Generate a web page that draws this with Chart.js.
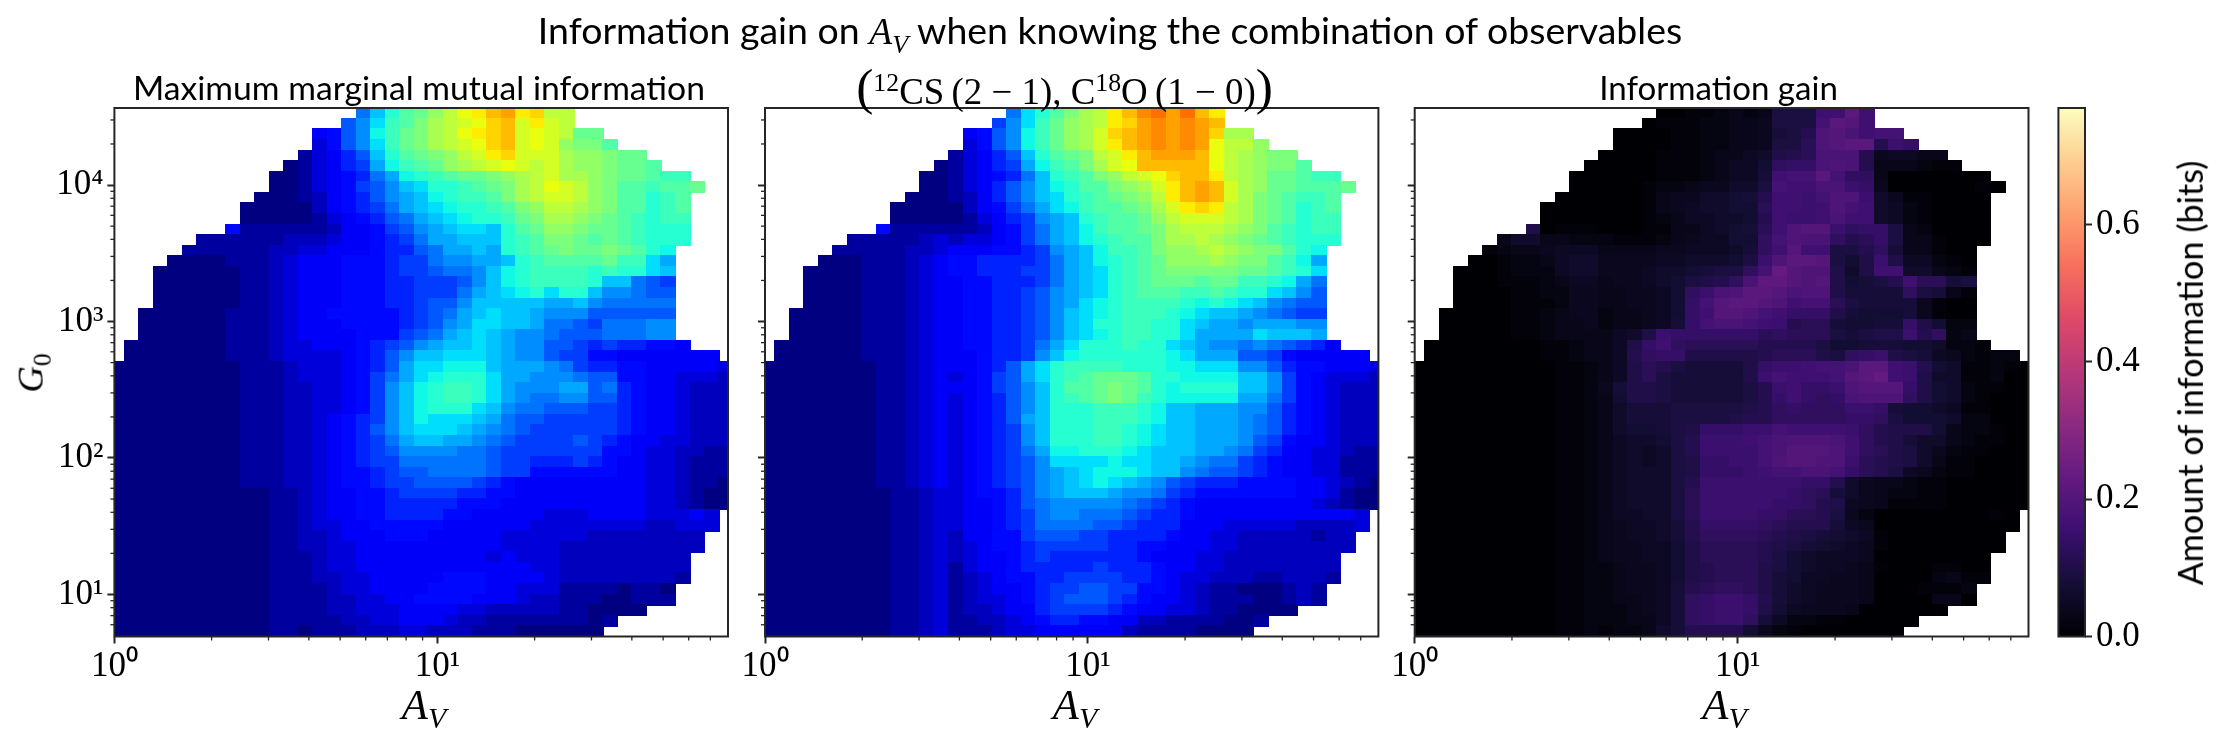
<!DOCTYPE html>
<html><head><meta charset="utf-8">
<script src="https://cdn.jsdelivr.net/npm/chart.js@4"></script>
<style>
html,body{margin:0;padding:0;background:#fff;width:2224px;height:737px;overflow:hidden}
canvas{position:absolute;top:0}
.t{position:absolute;white-space:nowrap;color:#000;font-family:Lato,sans-serif;transform:translate(-50%,-50%);line-height:1;font-size:32px}
.m{font-family:"Liberation Serif",serif}
.m i{font-style:italic}
sub,sup{font-size:70%;line-height:0}
.p{font-size:1.4em;font-weight:100}
</style></head><body>
<canvas id="c1" width="760" height="737" style="left:0"></canvas>
<canvas id="c2" width="720" height="737" style="left:680px"></canvas>
<canvas id="c3" width="720" height="737" style="left:1330px"></canvas>
<canvas id="c4" width="184" height="737" style="left:2040px"></canvas>
<div class="t" data-w="1145" style="left:1110px;top:31px">Information gain on <span class="m"><i>A<sub>V</sub></i></span> when knowing the combination of observables</div>
<div class="t" data-w="572" style="left:419px;top:88px">Maximum marginal mutual information</div>
<div class="t m" data-w="417" style="left:1064.5px;top:87px"><span class="p">(</span><sup>12</sup>CS&#8201;(2 − 1), C<sup>18</sup>O&#8201;(1 − 0)<span class="p">)</span></div>
<div class="t" data-w="239" style="left:1718.6px;top:88px">Information gain</div>
<div class="t m" data-w="44" style="left:424px;top:705px"><i>A<sub>V</sub></i></div>
<div class="t m" data-w="44" style="left:1075px;top:705px"><i>A<sub>V</sub></i></div>
<div class="t m" data-w="44" style="left:1724.5px;top:705px"><i>A<sub>V</sub></i></div>
<div class="t m" data-w="39" style="left:31px;top:373px;transform:translate(-50%,-50%) rotate(-90deg)"><i>G</i><sub>0</sub></div>
<div class="t" data-w="425" style="left:2190px;top:373px;transform:translate(-50%,-50%) rotate(-90deg)">Amount of information (bits)</div>
<script>
// first occupied column of each grid row (row 0 is the top row)
const rowStart=[17,16,14,14,13,12,11,11,10,9,9,8,6,5,4,3,3,3,3,2,2,2,1,1,0,0,0,0,0,0,0,0,0,0,0,0,0,0,0,0,0,0,0,0,0,0,0,0,0,0];
// cell levels: base-36 digits, one string per row (spaces are ignored)
const marginalLevels=[
"9cfhikmoprspqmm","8adghjlmnoqrnpnm","458aegijlmopqrnonmii","358adgijlmnoqrnonkjjh",
"13468cfhijkmnpqnnnlkkjii","013467beghiklmnonmnlkkjiih","00134569befghiijklmnllkjiihgg","00134578acdffghijlmonmkjhhghhi",
"000124568abcefgghjlmnnmkjhhfgh","00000245679bcdeffghjkmmlkjhhfgh","00000 1345689bcdeffgijllkjihgfgg","511111 1244578abcddcfhikkjiihgfff",
"1111112 2 23445679bbcccfghjjihihgfff","11111122 3 344456689bbcbfghijiijihfe","000011123 4 445556779aabbcfghhhhiggdb",
"0000001123 4 4455567789 9acefggggf gffdc","0000001123 4 4455566777 8acefggggf cc987","0000001123 4 4455566777 9bcdefdffc aa988","0000001123 4 4455566788 acccccbbca 99999",
"00000011123 4 4555556789 bcdccbaaa8 88888","00000011123 4 445555678a bddccb9987 999aa","00000011123 4 444555789b cdcbaa9888 999aa",
"000000011123 3 4445678abc cdcbaa8876 766554","000000011123 3 334568accd ddcbaa8775 54444444",
"0000000001112 3 334568bdde eecbbba976 655444443","0000000001112 3 334579bdef ffdbbaaa98 855443332",
"0000000001112 2 33457acefg gfdbaaabb8 965443222","0000000001112 2 33457acefg gfdba99aa8 865443222","0000000001112 2 33457aceff fdca998887 765443222",
"0000000001112 2 34567acedd dcb9887777 765443222","0000000001112 2 34568acddd cba9877777 765443222","0000000001112 2 345679bccb ba98777787 654433222",
"0000000001112 2 345678aaaa 9987777777 554332211","0000000001112 2 3456779999 9987766676 544332111","0000000001112 2 3455678899 9987755555 544332111",
"0000000001112 2 3455677888 8765444444 444332110",
"0000000000011 2 3445567777 6655444444 444332100","0000000000011 2 3445566666 5554444444 444332100","0000000000011 2 3445566665 5444443334 44433343",
"0000000000011 2 3344555554 4444433333 33322333","0000000000011 2 2344455544 4443333332 2222222","0000000000011 2 2334444444 4443333222 2222222",
"0000000000011 1 2334444444 4434333222 222222","0000000000011 1 2334444444 4444433222 222222","0000000000011 1 2233444445 5544443222 222221",
"0000000000011 1 1233444455 5544333111 10110","0000000000011 1 1223344555 5444322111 00111","0000000000011 1 1223334444 3322222110 000",
"0000000000011 1 1122334443 2211111110 1","0000000000011 0 1112223322 2111000000"
];
const jointLevels=[
"9dfhjlm prtusurp","7adgiklm pqststsr","458aegikln qrststsqll","358aegikln prststsomm k",
"13468cfhij mnprsssrom lkjj","013467begh jlnorrrrro mlkjjh","00134569cf ghjkmnoqrr pmlkiihgg","0013468ace fhhjklnprs rnlkiihhhi",
"00012468ac dfghijkmpr srnljihggh","00000 24579 bdegh hijln pqpml jihfgh","00000 13467 abcfg hhikm nnnml jihfgg","511111 12457 9bceg hhijl mmmlk jhgfgg",
"1111123 2 33457 9bcef ghhjl lmlkj ihgfff","11111223 4 44556 7abce gghjk klmlk jjhfe","000111234 5 56666 79bce fghik kklkj jhgeb",
"0000111234 5 56667 79bcd fghij jjjji ihgfd","0000111234 4 55666 79bcd fghii ihiig gfeb9","0000111234 4 55667 8abcd fghhh gghgf fdca8","0000111234 4 55667 8abde fgggg fefed ca988",
"00000111234 4 55667 8acde fgggf edccb a9877","00000111234 4 55667 8acdf fggff dcbba bbbaa","00000111234 4 55667 8acde fggff dbbbb dcccb",
"000000111234 4 55667 9bdff fgffd cbaa9 a9876 4","000000111234 4 45667 aceff ffffe dbbb8 87544 444",
"0000000011234 4 4568b dfggg gfffe eddda a8655 4443","0000000011234 3 4578b dfghi iihff eeeec ca754 3332",
"0000000011234 4 4578a cfhhi jihfe ffffc ca754 3222","0000000011234 3 4568a cfghi jigfe eeeeb b9754 3222","0000000011234 3 4568a cfffg ggfec cbbba a8654 3222",
"0000000011234 3 4568b cfffg ggfec cbbba 98654 3222","0000000011234 3 4567a cfffg gfedc cbbba 98654 3222","0000000011234 3 4567a cfffg gfedc cbbba 87544 3222",
"0000000011234 3 45679 beeff fedcc cbba9 76443 3211","0000000011234 3 45678 adddd eddcc ba997 65443 3111","0000000011234 3 45678 abcde eedcc a9887 65443 3111",
"0000000011234 3 45678 abcde dcba8 76665 55544 3210",
"0000000001123 3 45568 abccc baa97 65555 55544 3100","0000000001123 3 44568 9aaaa a9876 54444 44443 2100","0000000001123 3 44567 9aa99 98766 54444 44444 443",
"0000000001123 3 44567 99998 87666 44433 33322 223","0000000001123 2 44557 88877 66665 44332 22221 22","0000000001123 2 34556 77777 66554 44332 22222 22",
"0000000001123 2 34456 76666 66544 43322 22222 2","0000000001123 1 34456 66667 66654 43322 22222 2","0000000001123 1 23455 66777 76654 33222 11222 1",
"0000000001123 1 23445 67788 77554 32110 00121","0000000001123 1 23345 67888 76544 32111 00121","0000000001123 1 22344 67777 65443 32110 000",
"0000000001123 1 12234 56655 44221 11100 1","0000000001123 1 11233 44444 42111 10000"
];
const gainLevels=[
"00112323 999 gg l g","0 1112233 4 999 h l k g","00 00112233 4 89b jkighh","0000112233 4 99c jkll bfe",
"0000 111 23356 abc iii b 45533","00000 1112 3557 dee iji b 33 3211","00000 0111 23558 ghh lhdd 3 0000000","00000 12234 4669 hggiife 4 00000010",
"000000 13446 678b ggfhjjf 641100 00","0000000 13456 677c ggfgjhg 652100 00","0000000 12355 667b gffgigg 652100 00","a0111000 11335 678c gjkkfde e93200 00",
"3663322211 12345 577d hjiidbc e93310 00","12334555 33334 45556 8dgkgg99bd8 33100","001223566 44445 56667 9 fjllk 97afa 55210",
"0001222566 44456 67899 dhnkjj a6agg 66321","0001112355 34456 79abd immkjk a789b gcc89","0000112244 33445 7dfij llkijj a8888 d9831","0000111244 33445 7ehkl lkjghh c9888 84100",
"00000112344 23345 7egkk jhgeee a8777 84100","00000112334 23345 8ehii hgfbcc 87788 ea722","00000112333 356af eeeee ecdccc 989aa fbd23",
"000000001123 35aeg dcccc cbbbb9 77888 77622 1","000000001123 35bde eaaaa abccca 9defa 98542 122",
"0000000000112 35acb 98888 aeffgh hillg fb761 1210","0000000000112 35ac9 88888 afhggg hklng fa661 1200",
"0000000000112 48aa9 88888 9bfgee fjkkk ea762 1100","0000000000112 37aa9 88888 9beged eijjj da762 1000","0000000000112 36888 99999 abdedd dffe8 77651 1000",
"0000000000112 36888 9999a bbdddd deed9 77762 2000","0000000000112 36778 9aeee ffhggg gfdba aa732 2100","0000000000112 35667 9bfff ghijjj igdba 86632 1100",
"0000000000112 35656 9bfff fhikkk jgdca 96421 1000","0000000000112 35656 9aeef fhjkkj jfcba 96311 0000","0000000000112 35666 9aeee fghhii hecb9 54211 0000",
"0000000000112 35666 9bfff ffffee b6433 21100 0000",
"0000000000112 35666 9cfff fffedc 86432 21100 0000","0000000000112 35666 9cfff ffeedb a5431 11100 0000","0000000000112 35566 9cfff feeccb 94200 00000 010",
"0000000000112 34556 8beee edcbbb 85400 00000 000","0000000000112 34556 8bddd dcba98 76510 00000 00","0000000000112 34455 7accc cba987 65410 00000 00",
"0000000000112 34455 7accc cb9765 55400 00000 0","0000000000112 23445 7abcc ca9765 54310 00110 0","0000000000112 23445 7abcc ca8755 44300 00231 1",
"0000000000112 23445 8bcdd ca8654 44300 01112","0000000000112 23345 8deff eb8654 44300 00330","0000000000112 22345 8deff ea7544 43000 000",
"0000000000112 22335 8deff d85221 10000 0","0000000000112 12236 8bbbb 742100 00000"
];
const xMajorTicks=[1,10];
const xMinorTicks=[2,3,4,5,6,7,8,9,20,30,40,50,60,70];
const yMajorTicks=[10,100,1000,10000];
const yMinorTicks=[6,7,8,9,20,30,40,50,60,70,80,90,200,300,400,500,600,700,800,900,2000,3000,4000,5000,6000,7000,8000,9000,20000,30000];
const xTickText={1:'10\u2070',10:'10\u00B9'};
const yTickText={10:'10\u00B9',100:'10\u00B2',1000:'10\u00B3',10000:'10\u2074'};
const colorbarTicks=[0,0.2,0.4,0.6];

const xLimits=[1,79.4], yLimits=[4.92,36700];
const xFirst=-0.0134, xStep=0.0449, yFirst=0.692, yStep=0.07745;
const bitsMax=0.77, jetBitsPerLevel=0.0203, magmaBitsPerLevel=0.0101;
const INK='#262626';
const tickFont={family:'"Liberation Serif",serif',size:35};

document.querySelectorAll('[data-w]').forEach(el=>{
 const w=el.offsetWidth;el.style.fontSize=(32*(+el.dataset.w)/w)+'px';
});

const magmaStops=[[0,0,4],[20,14,54],[59,15,112],[100,26,128],[140,41,129],[183,55,121],[222,73,104],[247,111,92],[254,159,109],[254,206,145],[252,253,191]];
function magma(n){n=Math.min(1,Math.max(0,n))*10;const i=Math.min(9,Math.floor(n)),f=n-i,a=magmaStops[i],b=magmaStops[i+1];
 return `rgb(${a.map((v,k)=>Math.round(v+(b[k]-v)*f)).join(',')})`;}
function pw(n,pts){for(let i=1;i<pts.length;i++){if(n<=pts[i][0]){const a=pts[i-1],b=pts[i];return a[1]+(b[1]-a[1])*(n-a[0])/(b[0]-a[0]);}}return pts[pts.length-1][1];}
function jet(n){n=Math.min(1,Math.max(0,n));
 const r=pw(n,[[0,0],[.35,0],[.66,1],[.89,1],[1,.5]]),g=pw(n,[[0,0],[.125,0],[.375,1],[.64,1],[.91,0],[1,0]]),b=pw(n,[[0,.5],[.11,1],[.34,1],[.65,0],[1,0]]);
 return `rgb(${Math.round(r*255)},${Math.round(g*255)},${Math.round(b*255)})`;}

function cellsFrom(rows,bitsPerLevel){
 const out=[];
 rows.forEach((raw,r)=>{const s=raw.replace(/ /g,'');for(let c=0;c<s.length;c++){
  const col=rowStart[r]+c;
  out.push({x:Math.pow(10,xFirst+(col+.5)*xStep),y:Math.pow(10,yFirst+(49-r+.5)*yStep),v:parseInt(s[c],36)*bitsPerLevel});
 }});
 return out;
}
const spriteCache={};
function cellSprite(ctx,cmap){
 if(!ctx.raw)return 'rect';
 const sx=ctx.chart.scales.x,sy=ctx.chart.scales.y,p=ctx.raw;
 const w=Math.max(1,Math.ceil(Math.abs(sx.getPixelForValue(p.x*Math.pow(10,xStep/2))-sx.getPixelForValue(p.x/Math.pow(10,xStep/2))))+1);
 const h=Math.max(1,Math.ceil(Math.abs(sy.getPixelForValue(p.y*Math.pow(10,yStep/2))-sy.getPixelForValue(p.y/Math.pow(10,yStep/2))))+1);
 const col=cmap(p.v/bitsMax),key=col+w+'x'+h;
 if(!spriteCache[key]){const cv=document.createElement('canvas');cv.width=w;cv.height=h;const g=cv.getContext('2d');g.fillStyle=col;g.fillRect(0,0,w,h);spriteCache[key]=cv;}
 return spriteCache[key];
}
const framePlugin={id:'frame',
 beforeDatasetsDraw(ch){ch.ctx.save();ch.ctx.imageSmoothingEnabled=false;},
 afterDatasetsDraw(ch){
  ch.ctx.restore();
  const a=ch.chartArea,g=ch.ctx;
  g.save();g.strokeStyle=INK;g.lineWidth=2;
  g.strokeRect(a.left,a.top,a.right-a.left,a.bottom-a.top);
  g.lineWidth=1.3;
  const sx=ch.scales.x,sy=ch.scales.y;
  if(sx.options.type==='logarithmic'){
   xMinorTicks.forEach(v=>{const p=sx.getPixelForValue(v);g.beginPath();g.moveTo(p,a.bottom);g.lineTo(p,a.bottom+4);g.stroke();});
   yMinorTicks.forEach(v=>{const p=sy.getPixelForValue(v);g.beginPath();g.moveTo(a.left,p);g.lineTo(a.left-4,p);g.stroke();});
  }
  g.restore();
 }};
function heatChart(id,rows,bitsPerLevel,cmap,leftGutter,rightGap,showY){
 new Chart(document.getElementById(id),{
  type:'scatter',
  data:{datasets:[{data:cellsFrom(rows,bitsPerLevel),showLine:false,pointRadius:1,pointHoverRadius:1,borderWidth:0,pointBorderWidth:0,clip:0,
   pointStyle:c=>cellSprite(c,cmap)}]},
  plugins:[framePlugin],
  options:{responsive:false,animation:false,devicePixelRatio:1,events:[],
   layout:{padding:{left:0,right:rightGap,top:108,bottom:0}},
   plugins:{legend:{display:false},tooltip:{enabled:false},title:{display:false}},
   scales:{
    x:{type:'logarithmic',min:xLimits[0],max:xLimits[1],position:'bottom',
     afterBuildTicks:s=>{s.ticks=xMajorTicks.map(v=>({value:v,major:true}));},
     afterFit:s=>{s.height=100.5;},
     border:{display:false},
     grid:{drawOnChartArea:false,tickLength:7,tickColor:INK,tickWidth:2},
     ticks:{autoSkip:false,maxRotation:0,font:tickFont,color:'#000',padding:2,callback:v=>xTickText[v]||''}},
    y:{type:'logarithmic',min:yLimits[0],max:yLimits[1],position:'left',
     afterBuildTicks:s=>{s.ticks=yMajorTicks.map(v=>({value:v,major:true}));},
     afterFit:s=>{s.width=leftGutter;},
     border:{display:false},
     grid:{drawOnChartArea:false,tickLength:7,tickColor:INK,tickWidth:2},
     ticks:{autoSkip:false,font:tickFont,color:showY?'#000':'rgba(0,0,0,0)',padding:4,callback:v=>showY?(yTickText[v]||''):''}}
   }}
 });
}
heatChart('c1',marginalLevels,jetBitsPerLevel,jet,114.4,32,true);
heatChart('c2',jointLevels,jetBitsPerLevel,jet,85,21.6,false);
heatChart('c3',gainLevels,magmaBitsPerLevel,magma,84.7,21.5,false);

new Chart(document.getElementById('c4'),{
 type:'bar',
 data:{labels:['bits'],datasets:[{data:[[0,bitsMax]],barPercentage:1,categoryPercentage:1,borderWidth:0,
  backgroundColor:c=>{const a=c.chart.chartArea;if(!a)return '#000';
   const g=c.chart.ctx.createLinearGradient(0,a.bottom,0,a.top);
   magmaStops.forEach((m,i)=>g.addColorStop(i/10,`rgb(${m.join(',')})`));return g;}}]},
 plugins:[framePlugin],
 options:{responsive:false,animation:false,devicePixelRatio:1,events:[],
  layout:{padding:{left:18.4,right:0,top:108,bottom:0}},
  plugins:{legend:{display:false},tooltip:{enabled:false}},
  scales:{
   x:{type:'category',display:true,position:'bottom',offset:true,afterFit:s=>{s.height=100.5;},border:{display:false},grid:{display:false,drawTicks:false},ticks:{display:false}},
   y:{type:'linear',position:'right',min:0,max:bitsMax,
    afterBuildTicks:s=>{s.ticks=colorbarTicks.map(v=>({value:v}));},
    afterFit:s=>{s.width=184-18.4-26.6;},
    border:{display:false},
    grid:{drawOnChartArea:false,tickLength:7,tickColor:INK,tickWidth:2},
    ticks:{font:tickFont,color:'#000',padding:4,callback:v=>v.toFixed(1)}}
  }}
});
</script>
</body></html>
